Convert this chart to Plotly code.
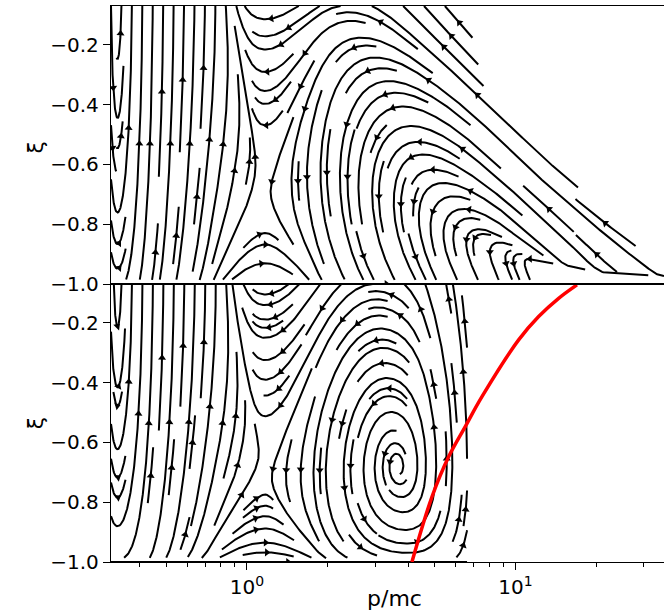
import math, bisect
import numpy as np
import plotly.graph_objects as go

# ---------------- axes / ticks ----------------
P_RANGE = [0.312, 35.7]
XI_RANGE = [-1.0, -0.07]
XI_TICKS = [-1.0, -0.8, -0.6, -0.4, -0.2]
P_MAJOR = [1, 10]
P_MAJOR_TEXT = ["10<sup>0</sup>", "10<sup>1</sup>"]
P_MINOR = [0.4, 0.5, 0.6, 0.7, 0.8, 0.9, 2, 3, 4, 5, 6, 7, 8, 9, 20, 30]

# ---------------- flow model ----------------
# momenta where dξ/dt changes sign (vertical turning lines)
P_TURN = [0.33, 1.17]
# top panel: dp/dt = 0 curve
TOP_PNULL_P = [0.28, 0.63, 0.76, 0.95, 1.17, 1.6, 2.0, 2.9, 4.0, 5.0, 7.1, 8.9, 12.0, 20.0, 45.0]
TOP_PNULL_XI = [0.0, 0.0, -0.07, -0.45, -0.70, -0.64, -0.62, -0.69, -0.75, -0.82, -0.876, -0.91, -0.94, -0.965, -0.99]
# top panel: dξ/dt = 0 ridge (apexes of the arcs)
TOP_RIDGE_XI = [-1.0, -0.99, -0.96, -0.92, -0.83, -0.58, -0.38, -0.24, -0.14, -0.07]
TOP_RIDGE_P = [300.0, 63.0, 20.0, 11.5, 7.5, 4.6, 3.7, 3.0, 2.5, 2.35]
# top panel: strength of the dp/dt term along p (base + extra near the X-point)
TOP_KA_P = [0.3, 3.0, 10.0, 20.0, 40.0]
TOP_KA = [0.0145, 0.0145, 0.010, 0.009, 0.009]
TOP_KX_P = [0.75, 1.17, 1.8]
TOP_KX = [0.0, 0.012, 0.0]
# top panel: edge of the region without flow
TOP_EDGE_P = [6.5, 7.7, 35.1, 40.0]
TOP_EDGE_XI = [-0.07, -0.36, -0.963, -0.98]
# bottom panel
BOT_PNULL_P = [0.28, 0.63, 0.76, 0.95, 1.19, 2.0, 3.65, 6.6]
BOT_PNULL_XI = [0.0, 0.0, -0.07, -0.45, -0.72, -0.70, -0.68, -0.66]
BOT_RIDGE_XI = [-1.0, -0.68, -0.07]
BOT_RIDGE_P = [4.0, 3.65, 3.0]
BOT_KA_P = [0.3, 3.65, 4.6, 6.6]
BOT_KA = [0.0145, 0.0145, 0.007, 0.003]
BOT_KX_P = [0.75, 1.19, 1.8]
BOT_KX = [0.0, 0.012, 0.0]
BOT_P_MAX = 6.6
# weight of the extra term versus ξ (stronger below the X-point)
KX_W_XI = [-1.0, -0.7, -0.07]
KX_W = [4.0, 1.0, 1.0]
# power of p in the dξ/dt term
TOP_NPOW = 2.0
BOT_NPOW = 1.6

# red curve
RED_P = [4.115, 4.886, 5.636, 6.50, 7.50, 10.27, 12.19, 14.47, 16.93]
RED_XI = [-1.0, -0.782, -0.648, -0.547, -0.447, -0.257, -0.179, -0.118, -0.073]

# ---------------- helpers ----------------
def interp(x, xs, ys):
    if x <= xs[0]:
        return ys[0]
    if x >= xs[-1]:
        return ys[-1]
    i = bisect.bisect_right(xs, x)
    x0, x1 = xs[i - 1], xs[i]
    t = (x - x0) / (x1 - x0)
    return ys[i - 1] + t * (ys[i] - ys[i - 1])


def make_field(pnull_p, pnull_xi, ridge_xi, ridge_p, ka_p, ka_v, kx_p, kx_v, npow, edge=None):
    nxs = [math.log10(v) for v in pnull_p]
    nys = list(pnull_xi)
    rxs = list(ridge_xi)
    rys = [math.log10(v) for v in ridge_p]
    kxs = [math.log10(v) for v in ka_p]
    kys = list(ka_v)
    exs_ = [math.log10(v) for v in kx_p]
    eys_ = list(kx_v)
    X1 = math.log10(P_TURN[0])
    X2 = math.log10(P_TURN[1])
    if edge is not None:
        exs = [math.log10(v) for v in edge[0]]
        eys = list(edge[1])

    def f(X, Y):
        if edge is not None and X > exs[0]:
            if Y > interp(X, exs, eys):
                return None
        Nu = interp(X, nxs, nys)
        A = interp(Y, rxs, rys)
        p = 10 ** X
        b = p ** (-npow) * math.sqrt(max(1 + Y, 0.0)) * (X - X1) * (X2 - X) * (A - X)
        k = interp(X, kxs, kys) + interp(X, exs_, eys_) * interp(Y, KX_W_XI, KX_W)
        a = k * (Nu - Y)
        return a, b
    return f


def gen_start(nx, ny):
    xfirst, yfirst, xlast, ylast = 0, 1, nx - 1, ny - 1
    x, y = 0, 0
    d = 'right'
    for _ in range(nx * ny):
        yield x, y
        if d == 'right':
            x += 1
            if x >= xlast:
                xlast -= 1
                d = 'up'
        elif d == 'up':
            y += 1
            if y >= ylast:
                ylast -= 1
                d = 'left'
        elif d == 'left':
            x -= 1
            if x <= xfirst:
                xfirst += 1
                d = 'down'
        else:
            y -= 1
            if y <= yfirst:
                yfirst += 1
                d = 'right'


def streamlines(f, xlim, ylim, nx, ny, maxlength=4.0, minlength=0.1):
    Xa, Xb = xlim
    Ya, Yb = ylim
    wx, wy = Xb - Xa, Yb - Ya
    mask = np.zeros((ny, nx), dtype=int)
    ds = 0.15 * min(1.0 / (nx - 1), 1.0 / (ny - 1))

    def vel(fx, fy):
        r = f(Xa + fx * wx, Ya + fy * wy)
        if r is None:
            return None
        ua, va = r[0] / wx, r[1] / wy
        s = math.hypot(ua, va)
        if not (s > 1e-14) or not math.isfinite(s):
            return None
        return ua / s, va / s

    def cell(fx, fy):
        return int(fx * (nx - 1) + 0.5), int(fy * (ny - 1) + 0.5)

    trajs = []
    tid = 0
    for xm, ym in gen_start(nx, ny):
        if mask[ym, xm]:
            continue
        fx0, fy0 = xm / (nx - 1), ym / (ny - 1)
        if vel(fx0, fy0) is None:
            continue
        tid += 1
        mask[ym, xm] = tid
        visited = [(ym, xm)]
        halves = []
        total = 0.0
        for sgn in (-1.0, 1.0):
            pts = [(fx0, fy0)]
            fx, fy = fx0, fy0
            last = (xm, ym)
            length = 0.0
            while length + ds <= maxlength:
                k1 = vel(fx, fy)
                if k1 is None:
                    break
                k2 = vel(fx + 0.5 * sgn * ds * k1[0], fy + 0.5 * sgn * ds * k1[1])
                if k2 is None:
                    break
                k3 = vel(fx + 0.5 * sgn * ds * k2[0], fy + 0.5 * sgn * ds * k2[1])
                if k3 is None:
                    break
                k4 = vel(fx + sgn * ds * k3[0], fy + sgn * ds * k3[1])
                if k4 is None:
                    break
                dx = sgn * ds * (k1[0] + 2 * k2[0] + 2 * k3[0] + k4[0]) / 6
                dy = sgn * ds * (k1[1] + 2 * k2[1] + 2 * k3[1] + k4[1]) / 6
                nfx, nfy = fx + dx, fy + dy
                if not (0 <= nfx <= 1 and 0 <= nfy <= 1):
                    t = 1.0
                    if nfx < 0: t = min(t, -fx / dx)
                    if nfx > 1: t = min(t, (1 - fx) / dx)
                    if nfy < 0: t = min(t, -fy / dy)
                    if nfy > 1: t = min(t, (1 - fy) / dy)
                    pts.append((fx + t * dx, fy + t * dy))
                    length += t * ds
                    break
                c = cell(nfx, nfy)
                if c != last:
                    if mask[c[1], c[0]] == 0:
                        mask[c[1], c[0]] = tid
                        visited.append((c[1], c[0]))
                        last = c
                    else:
                        break
                pts.append((nfx, nfy))
                fx, fy = nfx, nfy
                length += ds
            halves.append(pts)
            total += length
        if total < minlength:
            for (r, c) in visited:
                mask[r, c] = 0
            continue
        pts = halves[0][::-1] + halves[1][1:]
        X = [Xa + q[0] * wx for q in pts]
        Y = [Ya + q[1] * wy for q in pts]
        trajs.append((X, Y))
    return trajs


# pixel scales (for arrow orientation)
SX = 553.0 / (math.log10(P_RANGE[1]) - math.log10(P_RANGE[0]))
SY = 278.0 / (XI_RANGE[1] - XI_RANGE[0])


def build_traces(trajs, xa, ya):
    lx, ly = [], []
    ax_, ay_, ang = [], [], []
    for X, Y in trajs:
        lx += [10 ** v for v in X] + [None]
        ly += list(Y) + [None]
        px = [v * SX for v in X]
        py = [v * SY for v in Y]
        s = np.cumsum(np.hypot(np.diff(px), np.diff(py)))
        if len(s) < 2:
            continue
        n = int(np.searchsorted(s, s[-1] / 2.0))
        n = min(n, len(X) - 2)
        dxp = px[n + 1] - px[n]
        dyp = py[n + 1] - py[n]
        ax_.append(10 ** X[n])
        ay_.append(Y[n])
        ang.append(math.degrees(math.atan2(dxp, dyp)))
    lines = go.Scatter(x=lx, y=ly, mode='lines', xaxis=xa, yaxis=ya,
                       line=dict(color='black', width=2.0), hoverinfo='skip')
    arrows = go.Scatter(x=ax_, y=ay_, mode='markers', xaxis=xa, yaxis=ya,
                        marker=dict(symbol='triangle-up', size=7, color='black', angle=ang),
                        hoverinfo='skip')
    return [lines, arrows]


XL = (math.log10(P_RANGE[0]), math.log10(P_RANGE[1]))
f_top = make_field(TOP_PNULL_P, TOP_PNULL_XI, TOP_RIDGE_XI, TOP_RIDGE_P, TOP_KA_P, TOP_KA,
                   TOP_KX_P, TOP_KX, TOP_NPOW, edge=(TOP_EDGE_P, TOP_EDGE_XI))
f_bot = make_field(BOT_PNULL_P, BOT_PNULL_XI, BOT_RIDGE_XI, BOT_RIDGE_P, BOT_KA_P, BOT_KA,
                   BOT_KX_P, BOT_KX, BOT_NPOW)

tr_top = streamlines(f_top, XL, (XI_RANGE[0], XI_RANGE[1]), 54, 36)
tr_bot = streamlines(f_bot, (XL[0], math.log10(BOT_P_MAX)), (XI_RANGE[0], XI_RANGE[1]), 35, 36)

fig = go.Figure()
for t in build_traces(tr_top, 'x2', 'y2'):
    fig.add_trace(t)
for t in build_traces(tr_bot, 'x', 'y'):
    fig.add_trace(t)
fig.add_trace(go.Scatter(x=RED_P, y=RED_XI, mode='lines', line=dict(color='red', width=3.5, shape='spline'),
                         xaxis='x', yaxis='y', hoverinfo='skip'))

axis_common = dict(showline=True, linecolor='black', linewidth=1.3, showgrid=False, zeroline=False)
yax = dict(range=XI_RANGE, tickvals=XI_TICKS, tickformat='.1f', ticks='outside', ticklen=7, tickwidth=1.2,
           tickcolor='black', mirror=False, tickfont=dict(size=20), **axis_common)
fig.update_layout(
    width=664, height=616, margin=dict(l=111, r=0, t=6, b=54),
    plot_bgcolor='white', paper_bgcolor='white', showlegend=False,
    font=dict(family='DejaVu Sans', color='black', size=20),
    xaxis=dict(domain=[0, 1], anchor='y', type='log', range=list(XL), tickvals=P_MAJOR, ticktext=P_MAJOR_TEXT,
               ticks='outside', ticklen=7, tickwidth=1.2, tickcolor='black', mirror=True, tickfont=dict(size=20),
               minor=dict(tickvals=P_MINOR, ticks='outside', ticklen=4, tickwidth=1, tickcolor='black'),
               **axis_common),
    yaxis=dict(domain=[0, 0.5], anchor='x', **yax),
    xaxis2=dict(domain=[0, 1], anchor='y2', type='log', range=list(XL), matches='x', showticklabels=False,
                ticks='', mirror=True, **axis_common),
    yaxis2=dict(domain=[0.5, 1], anchor='x2', **yax),
    annotations=[
        dict(text='ξ', xref='paper', yref='paper', x=-0.137, y=0.746, xanchor='center', yanchor='middle',
             showarrow=False, textangle=-90, font=dict(size=22)),
        dict(text='ξ', xref='paper', yref='paper', x=-0.137, y=0.25, xanchor='center', yanchor='middle',
             showarrow=False, textangle=-90, font=dict(size=22)),
        dict(text='p/mc', xref='paper', yref='paper', x=0.512, y=-0.065, xanchor='center', yanchor='middle',
             showarrow=False, font=dict(size=22)),
    ],
)
fig.write_html('out.html')
